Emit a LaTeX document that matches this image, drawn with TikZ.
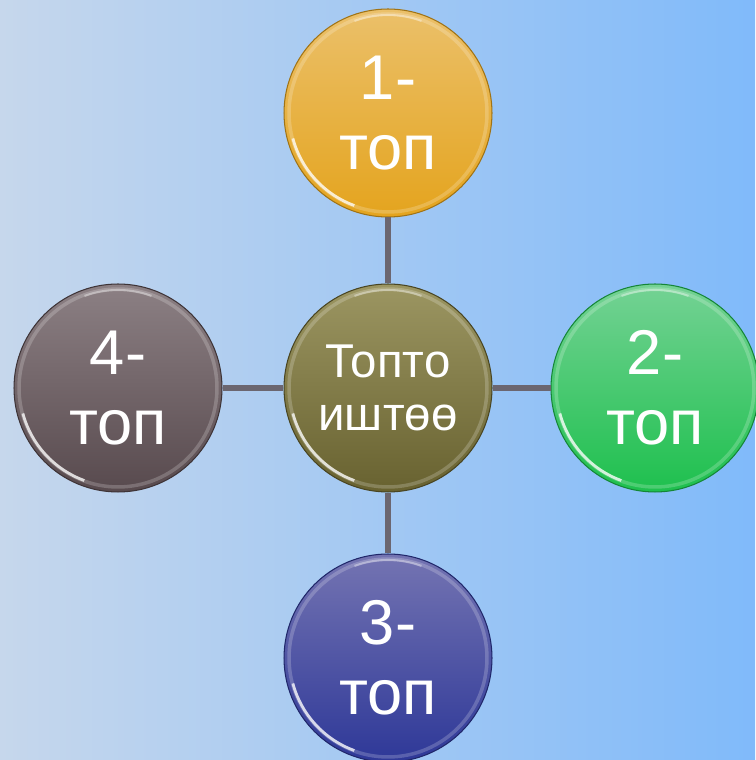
\documentclass[tikz,border=0pt]{standalone}
\usepackage{fontspec}
\setmainfont{Liberation Sans}
\usetikzlibrary{positioning}

\definecolor{bgleft}{HTML}{C6D7EC}
\definecolor{bgright}{HTML}{80BAFA}
\definecolor{stem}{HTML}{6B6670}
% ball colours: top / middle / bottom
\definecolor{goldT}{HTML}{EBC06A}\definecolor{goldM}{HTML}{D09A30}\definecolor{goldB}{HTML}{E4A41E}
\definecolor{oliveT}{HTML}{9C9662}\definecolor{oliveM}{HTML}{7A7444}\definecolor{oliveB}{HTML}{686230}
\definecolor{mauveT}{HTML}{8C8084}\definecolor{mauveM}{HTML}{6E6064}\definecolor{mauveB}{HTML}{584A4E}
\definecolor{greenT}{HTML}{74D294}\definecolor{greenM}{HTML}{3AAE5E}\definecolor{greenB}{HTML}{1EC04E}
\definecolor{blueT}{HTML}{7474B2}\definecolor{blueM}{HTML}{4A4C90}\definecolor{blueB}{HTML}{2E3898}

\tikzset{
  ball/.style={circle, minimum size=4.16cm, inner sep=0pt, align=center,
    text=white, draw=#1B!70!black, line width=0.6pt,
    top color=#1T, middle color=#1M, bottom color=#1B,
    font=\fontsize{36}{40}\selectfont,
    path picture={
      \draw[white, opacity=.2, line width=2pt]
        (path picture bounding box.center) circle (1.98cm);
      \draw[white, opacity=.75, line width=1.6pt]
        ([shift={(195:1.97cm)}]path picture bounding box.center) arc (195:250:1.97cm);
      \draw[white, opacity=.35, line width=1.2pt]
        ([shift={(70:1.96cm)}]path picture bounding box.center) arc (70:110:1.96cm);
    }},
  hub/.style={ball=#1, font=\fontsize{27}{30.5}\selectfont},
  stick/.style={draw=stem, line width=3.4pt}
}

\begin{document}
\begin{tikzpicture}[x=0.02cm, y=0.02cm]
	\fill[left color=bgleft, right color=bgright] (0,0) rectangle (755,760);
	\useasboundingbox (0,0) rectangle (755,760);

	\node[hub=olive] (grp) at (388, 372) {Топто\\иштөө};
	\node[ball=gold]  (g1) at (388, 647) {1-\\топ};
	\node[ball=green] (g2) at (655, 372) {2-\\топ};
	\node[ball=blue]  (g3) at (388, 102) {3-\\топ};
	\node[ball=mauve] (g4) at (118, 372) {4-\\топ};

	\draw[stick] (grp) -- (g1);
	\draw[stick] (grp) -- (g2);
	\draw[stick] (grp) -- (g3);
	\draw[stick] (grp) -- (g4);
\end{tikzpicture}
\end{document}
